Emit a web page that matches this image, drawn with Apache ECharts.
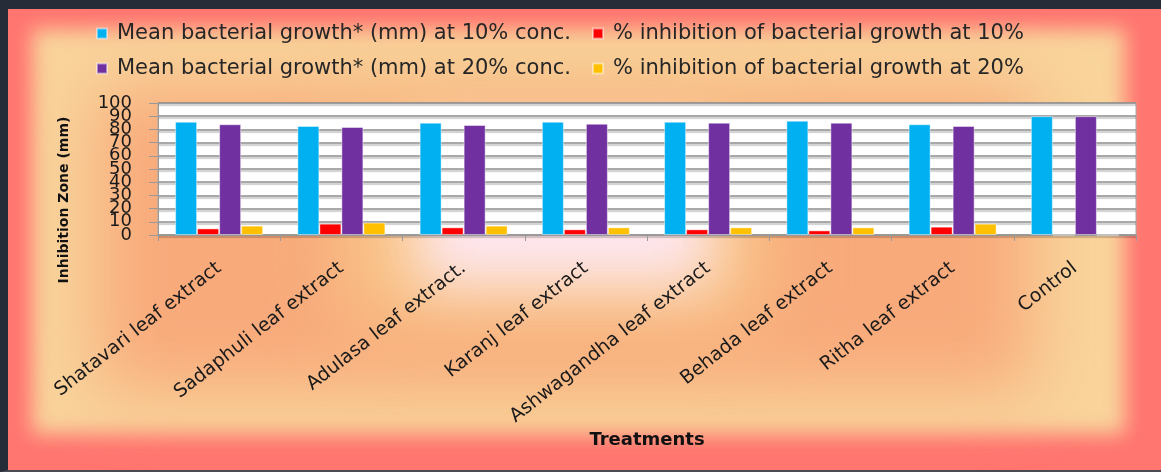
<!DOCTYPE html>
<html>
<head>
<meta charset="utf-8">
<script src="https://cdn.jsdelivr.net/npm/echarts@6/dist/echarts.min.js"></script>
<style>
    html, body { margin: 0; padding: 0; }
    .chart-wrap {
        position: relative;
        width: 1161px;
        height: 472px;
        box-sizing: border-box;
        border-top: 9px solid #262c38;
        border-left: 8px solid #262c38;
        border-bottom: 2px solid #4a4a52;
        background: #ff7570;
        overflow: hidden;
    }
    .bg { position: absolute; }
    .bg1 { left: 24px; top: 20px; right: 36px; bottom: 36px; background: #f9d49b; filter: blur(10px); }
    .bg2 { left: 90px; top: 80px; right: 130px; bottom: 80px; background: #f8aa7b; filter: blur(34px); }
    .bg3 { left: 340px; top: 110px; right: 400px; bottom: 150px; background: #f9c98a; filter: blur(40px); }
    .bg4 { left: 410px; top: 130px; right: 450px; bottom: 185px; background: #fde6ef; filter: blur(28px); }
    #main { position: absolute; left: 0; top: 0; width: 100%; height: 100%; }
</style>
</head>
<body>
<div class="chart-wrap">
    <div class="bg bg1"></div>
    <div class="bg bg2"></div>
    <div class="bg bg3"></div>
    <div class="bg bg4"></div>
    <div id="main"></div>
</div>
<script>
    // 数据
    var categories = ['Shatavari leaf extract', 'Sadaphuli leaf extract', 'Adulasa leaf extract.',
        'Karanj leaf extract', 'Ashwagandha leaf extract', 'Behada leaf extract', 'Ritha leaf extract', 'Control']
    var growth10 = [85.8, 82.6, 85.1, 85.8, 85.8, 86.6, 83.9, 90]
    var inhib10 = [5.0, 8.6, 5.8, 4.3, 4.3, 3.5, 6.3, 0]
    var growth20 = [83.9, 81.8, 83.3, 84.3, 85.1, 85.1, 82.6, 90]
    var inhib20 = [7.1, 9.4, 7.1, 5.8, 5.8, 5.8, 8.6, 0]
    var seriesNames = ['Mean bacterial growth* (mm) at 10% conc.', '% inhibition of bacterial growth at 10%',
        'Mean bacterial growth* (mm) at 20% conc.', '% inhibition of bacterial growth at 20%']
    var colors = ['#00b0f0', '#ff0000', '#7030a0', '#ffc000']

    var font = 'DejaVu Sans'
    var myChart = echarts.init(document.getElementById('main'))

    function legendAt(name, left, top) {
        return {
            data: [name],
            left: left,
            top: top,
            icon: 'rect',
            itemWidth: 10,
            itemHeight: 10,
            itemGap: 0,
            textStyle: { fontFamily: font, fontSize: 21, color: '#262626', padding: [0, 0, 0, 5] }
        }
    }

    function bar(idx, data) {
        return {
            name: seriesNames[idx],
            type: 'bar',
            data: data,
            barGap: '0%',
            barCategoryGap: '28%',
            itemStyle: {
                color: colors[idx],
                borderColor: 'rgba(255,255,255,0.45)',
                borderWidth: 1
            }
        }
    }

    // 刻度标签太密，分成两个轴来画（偶数/奇数）
    function valueAxis(rest, main) {
        return {
            type: 'value',
            position: 'left',
            min: 0,
            max: 100,
            interval: 10,
            axisLine: { show: main, lineStyle: { color: '#999999' } },
            axisTick: { show: main, length: 9, lineStyle: { color: '#999999' } },
            axisLabel: {
                margin: 26,
                showMinLabel: true,
                showMaxLabel: true,
                hideOverlap: false,
                fontFamily: font,
                fontSize: 18,
                color: '#1a1a1a',
                formatter: function (v) {
                    return v % 20 === rest ? String(v) : ''
                }
            },
            splitLine: {
                show: main,
                lineStyle: {
                    color: '#8c8c8c',
                    width: 1.5,
                    shadowColor: 'rgba(0,0,0,0.25)',
                    shadowOffsetY: 2,
                    shadowBlur: 1
                }
            }
        }
    }

    var option = {
        animation: false,
        color: colors,
        legend: [
            legendAt(seriesNames[0], 83, 9),
            legendAt(seriesNames[1], 579, 9),
            legendAt(seriesNames[2], 83, 44),
            legendAt(seriesNames[3], 579, 44)
        ],
        grid: {
            left: 150,
            right: 25,
            top: 94,
            bottom: 235,
            show: true,
            backgroundColor: '#ffffff',
            borderColor: '#aaaaaa',
            borderWidth: 1
        },
        xAxis: {
            type: 'category',
            data: categories,
            axisLine: { lineStyle: { color: '#999999', width: 1.5 } },
            axisTick: { show: true, length: 6, lineStyle: { color: '#999999' } },
            axisLabel: {
                rotate: 38,
                margin: 31,
                fontFamily: font,
                fontSize: 19,
                color: '#1a1a1a'
            },
            name: 'Treatments',
            nameLocation: 'middle',
            nameGap: 196,
            nameTextStyle: { fontFamily: font, fontSize: 18, fontWeight: 'bold', color: '#111111' }
        },
        yAxis: [valueAxis(0, true), valueAxis(10, false)],
        graphic: [{
            type: 'text',
            x: 56,
            y: 191,
            rotation: Math.PI / 2,
            style: {
                text: 'Inhibition Zone (mm)',
                font: 'bold 14px "DejaVu Sans"',
                fill: '#111111',
                align: 'center',
                verticalAlign: 'middle'
            }
        }],
        series: [
            bar(0, growth10),
            bar(1, inhib10),
            bar(2, growth20),
            bar(3, inhib20)
        ]
    }
    myChart.setOption(option)
</script>
</body>
</html>
